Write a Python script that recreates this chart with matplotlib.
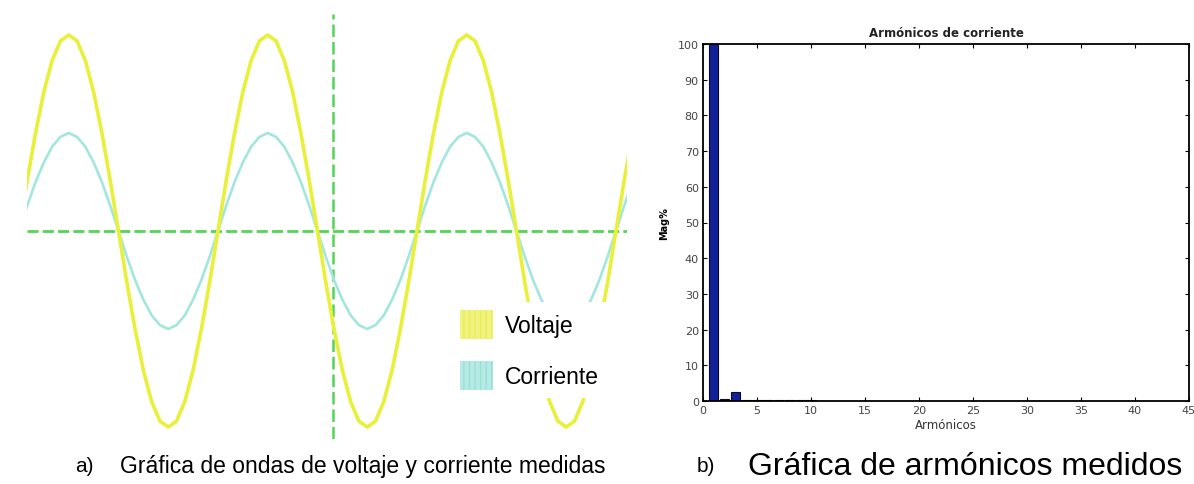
import matplotlib
matplotlib.use("Agg")
import matplotlib.pyplot as plt
from matplotlib.patches import Patch

# ---------------- data: left panel (waveforms, electrical degrees) ----------------
angle_deg = [0, 15, 30, 45, 60, 75, 90, 105, 120, 135, 150, 165,
             180, 195, 210, 225, 240, 255, 270, 285, 300, 315, 330, 345,
             360, 375, 390, 405, 420, 435, 450, 465, 480, 495, 510, 525,
             540, 555, 570, 585, 600, 615, 630, 645, 660, 675, 690, 705,
             720, 735, 750, 765, 780, 795, 810, 825, 840, 855, 870, 885,
             900, 915, 930, 945, 960, 975, 990, 1005, 1020, 1035, 1050, 1065,
             1080, 1095, 1110, 1125]

voltage = [0.00, 0.26, 0.50, 0.71, 0.87, 0.97, 1.00, 0.97, 0.87, 0.71, 0.50, 0.26,
           0.00, -0.26, -0.50, -0.71, -0.87, -0.97, -1.00, -0.97, -0.87, -0.71, -0.50, -0.26,
           0.00, 0.26, 0.50, 0.71, 0.87, 0.97, 1.00, 0.97, 0.87, 0.71, 0.50, 0.26,
           0.00, -0.26, -0.50, -0.71, -0.87, -0.97, -1.00, -0.97, -0.87, -0.71, -0.50, -0.26,
           0.00, 0.26, 0.50, 0.71, 0.87, 0.97, 1.00, 0.97, 0.87, 0.71, 0.50, 0.26,
           0.00, -0.26, -0.50, -0.71, -0.87, -0.97, -1.00, -0.97, -0.87, -0.71, -0.50, -0.26,
           0.00, 0.26, 0.50, 0.71]

current = [0.00, 0.13, 0.25, 0.35, 0.43, 0.48, 0.50, 0.48, 0.43, 0.35, 0.25, 0.13,
           0.00, -0.13, -0.25, -0.35, -0.43, -0.48, -0.50, -0.48, -0.43, -0.35, -0.25, -0.13,
           0.00, 0.13, 0.25, 0.35, 0.43, 0.48, 0.50, 0.48, 0.43, 0.35, 0.25, 0.13,
           0.00, -0.13, -0.25, -0.35, -0.43, -0.48, -0.50, -0.48, -0.43, -0.35, -0.25, -0.13,
           0.00, 0.13, 0.25, 0.35, 0.43, 0.48, 0.50, 0.48, 0.43, 0.35, 0.25, 0.13,
           0.00, -0.13, -0.25, -0.35, -0.43, -0.48, -0.50, -0.48, -0.43, -0.35, -0.25, -0.13,
           0.00, 0.13, 0.25, 0.35]

series_labels = ["Voltaje", "Corriente"]
cursor_angle = 569

# ---------------- data: right panel (harmonics) ----------------
harmonic_order = list(range(1, 41))
harmonic_pct = [100, 0.5, 2.4, 0.3, 0.4, 0.2, 0.3, 0.2, 0.3, 0.2,
                0.1, 0.1, 0.1, 0.1, 0.1, 0.1, 0.1, 0.1, 0.1, 0.1,
                0.1, 0.1, 0.1, 0.1, 0.1, 0.1, 0.1, 0.1, 0.1, 0.1,
                0.1, 0.1, 0.1, 0.1, 0.1, 0.1, 0.1, 0.1, 0.1, 0.1]
x_ticks = [0, 5, 10, 15, 20, 25, 30, 35, 40, 45]
y_ticks = [0, 10, 20, 30, 40, 50, 60, 70, 80, 90, 100]

caption_a = "Gráfica de ondas de voltaje y corriente medidas"
caption_b = "Gráfica de armónicos medidos"

# ---------------- figure ----------------
W, H = 1194, 485
fig = plt.figure(figsize=(W / 100, H / 100), dpi=100)
fig.patch.set_facecolor("white")

def px_axes(x0, y0, x1, y1):
    return fig.add_axes([x0 / W, 1 - y1 / H, (x1 - x0) / W, (y1 - y0) / H])

# ---- left panel ----
axL = px_axes(27, 15, 627, 440)
axL.set_xlim(14.5, 1100)
axL.set_ylim(-1.061, 1.107)
axL.axis("off")

yellow = "#e9f03a"
cyan = "#a3e6de"
green = "#55d455"

axL.axhline(0, color=green, lw=2.0, ls=(0, (4, 1.5)), zorder=1)
axL.axvline(cursor_angle, color=green, lw=1.8, ls=(0, (5, 2)), zorder=1)
axL.plot(angle_deg, voltage, color=yellow, lw=2.6, solid_joinstyle="round", zorder=3)
axL.plot(angle_deg, current, color=cyan, lw=1.9, solid_joinstyle="round", zorder=2)

handles = [Patch(facecolor="#f1f37e", edgecolor="#e8ec5a", hatch="|||", lw=0),
           Patch(facecolor="#b5ebe4", edgecolor="#9adfd6", hatch="|||", lw=0)]
leg = axL.legend(handles, series_labels, loc="upper left",
                 bbox_to_anchor=(452 / W, 1 - 303 / H), bbox_transform=fig.transFigure,
                 borderaxespad=0, frameon=True, framealpha=1, facecolor="white",
                 edgecolor="none", fancybox=False,
                 prop={"family": ["Liberation Sans", "DejaVu Sans"], "size": 16.5},
                 handlelength=1.44, handleheight=1.6, labelspacing=0.92,
                 handletextpad=0.52, borderpad=0.35)
leg.set_zorder(10)

# ---- right panel ----
axR = px_axes(703, 45, 1189, 402)
axR.bar(harmonic_order, harmonic_pct, width=0.85, color="#12209a",
        edgecolor="#0a0a30", lw=0.8, zorder=2)
axR.set_xlim(0, 45)
axR.set_ylim(0, 100)
axR.set_xticks(x_ticks)
axR.set_yticks(y_ticks)
axR.tick_params(direction="in", length=3, width=0.8, top=True, right=True,
                labelsize=8, labelcolor="#444444", pad=3)
for s in axR.spines.values():
    s.set_linewidth(1.3)
axR.set_title("Armónicos de corriente", fontsize=8.5, fontweight="bold",
              color="#222222", pad=6)
axR.set_xlabel("Armónicos", fontsize=8.5, color="#333333", labelpad=2)
axR.set_ylabel("Mag%", fontsize=7, fontweight="bold", labelpad=6)

# ---- captions ----
sans = ["Liberation Sans", "DejaVu Sans"]
fig.text(75 / W, 1 - 467 / H, "a)", fontsize=15, family=sans, va="center", ha="left")
fig.text(120 / W, 1 - 467 / H, caption_a, fontsize=16.5, family=sans, va="center", ha="left")
fig.text(697 / W, 1 - 467 / H, "b)", fontsize=15, family=sans, va="center", ha="left")
fig.text(748 / W, 1 - 467 / H, caption_b, fontsize=23, family=sans, va="center", ha="left")

fig.savefig("out.png", dpi=100, facecolor="white")
